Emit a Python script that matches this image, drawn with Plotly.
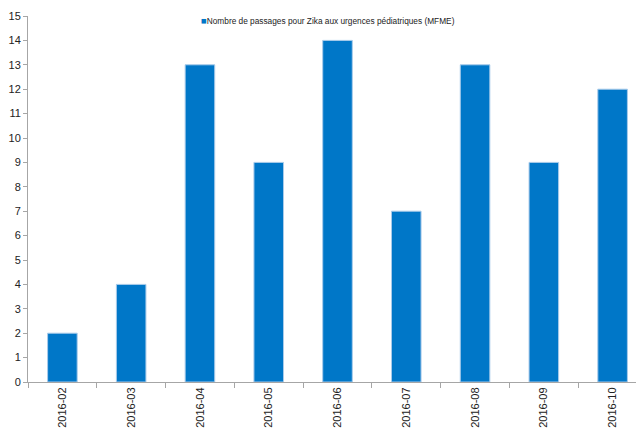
import plotly.graph_objects as go

categories = ["2016-02", "2016-03", "2016-04", "2016-05", "2016-06",
              "2016-07", "2016-08", "2016-09", "2016-10"]
values = [2, 4, 13, 9, 14, 7, 13, 9, 12]
series_name = "Nombre de passages pour Zika aux urgences pédiatriques (MFME)"
bar_color = "#0077C8"

fig = go.Figure()
fig.add_trace(go.Bar(
    x=categories, y=values, name=series_name,
    marker=dict(color=bar_color, line=dict(color="#A9CBEA", width=1)),
    width=0.43, showlegend=False,
))

# legend drawn as text with a coloured square
fig.add_annotation(
    xref="paper", yref="paper", x=0.485, y=0.989,
    xanchor="center", yanchor="middle", showarrow=False,
    text=f"<span style='color:{bar_color};font-size:9.5px'>■</span>{series_name}",
    font=dict(family="Liberation Sans, Arial, sans-serif", size=8.3, color="#222"),
)

fig.update_layout(
    width=644, height=428,
    margin=dict(l=20, r=5, t=8, b=54),
    paper_bgcolor="white", plot_bgcolor="white",
    font=dict(family="Liberation Sans, Arial, sans-serif", size=11, color="#222"),
    showlegend=False,
)
fig.update_xaxes(
    type="category", range=[-0.5, 8.5], autorange=False,
    showline=True, linecolor="#A6A6A6", linewidth=1,
    ticks="outside", tickson="boundaries", ticklen=5, tickcolor="#A6A6A6",
    tickangle=-90, showgrid=False, automargin=False,
    tickfont=dict(size=11, color="#222"),
)
fig.update_yaxes(
    range=[0, 15], autorange=False, dtick=1,
    showline=True, linecolor="#A6A6A6", linewidth=1,
    ticks="outside", ticklen=4, tickcolor="#A6A6A6",
    showgrid=False, zeroline=False, automargin=False,
    tickfont=dict(size=11, color="#222"),
)

fig.write_html("out.html")
